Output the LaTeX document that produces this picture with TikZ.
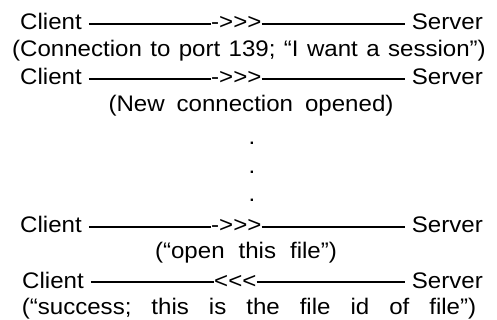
\documentclass[tikz,border=0pt]{standalone}
\usepackage{fontspec}
\setmainfont{Liberation Sans}[FakeStretch=1.07, Ligatures=TeXOff]
\begin{document}
\begin{tikzpicture}[x=1pt, y=-1pt, font=\fontsize{22.5}{26}\selectfont, lbl/.style={inner sep=0pt, anchor=base}, gap/.style={execute at begin node={\spaceskip=#1\relax}}, wire/.style={line width=1.5pt}]
  \useasboundingbox (0,0) rectangle (497,320);

  \node[lbl, anchor=base west] (client1) at (20,30) {Client};
  \node[lbl, anchor=base west] (send1) at (211,30) {->>>};
  \node[lbl, anchor=base east] (server1) at (483,30) {Server};
  \node[lbl, gap=8.4pt] (note1) at (249,57) {(Connection to port 139; “I want a session”)};

  \node[lbl, anchor=base west] (client2) at (20,85) {Client};
  \node[lbl, anchor=base west] (send2) at (211,85) {->>>};
  \node[lbl, anchor=base east] (server2) at (483,85) {Server};
  \node[lbl, gap=12pt] (note2) at (251,112) {(New connection opened)};

  \node[lbl] (dot1) at (252,145) {.};
  \node[lbl] (dot2) at (252,174) {.};
  \node[lbl] (dot3) at (252,202) {.};

  \node[lbl, anchor=base west] (client3) at (20,233) {Client};
  \node[lbl, anchor=base west] (send3) at (211,233) {->>>};
  \node[lbl, anchor=base east] (server3) at (483,233) {Server};
  \node[lbl, gap=14pt] (note3) at (246,258) {(“open this file”)};

  \node[lbl, anchor=base west] (client4) at (22,288) {Client};
  \node[lbl, anchor=base west] (reply4) at (214,288) {<<<};
  \node[lbl, anchor=base east] (server4) at (483,288) {Server};
  \node[lbl, gap=20pt] (note4) at (249,314) {(“success; this is the file id of file”)};

  \foreach \i/\m in {1/send1, 2/send2, 3/send3, 4/reply4} {
    \draw[wire] ([xshift=7pt, yshift=6pt]client\i.base east) -- ([yshift=6pt]\m.base west);
    \draw[wire] ([yshift=6pt]\m.base east) -- ([xshift=-7pt, yshift=6pt]server\i.base west);
  }

\end{tikzpicture}
\end{document}
